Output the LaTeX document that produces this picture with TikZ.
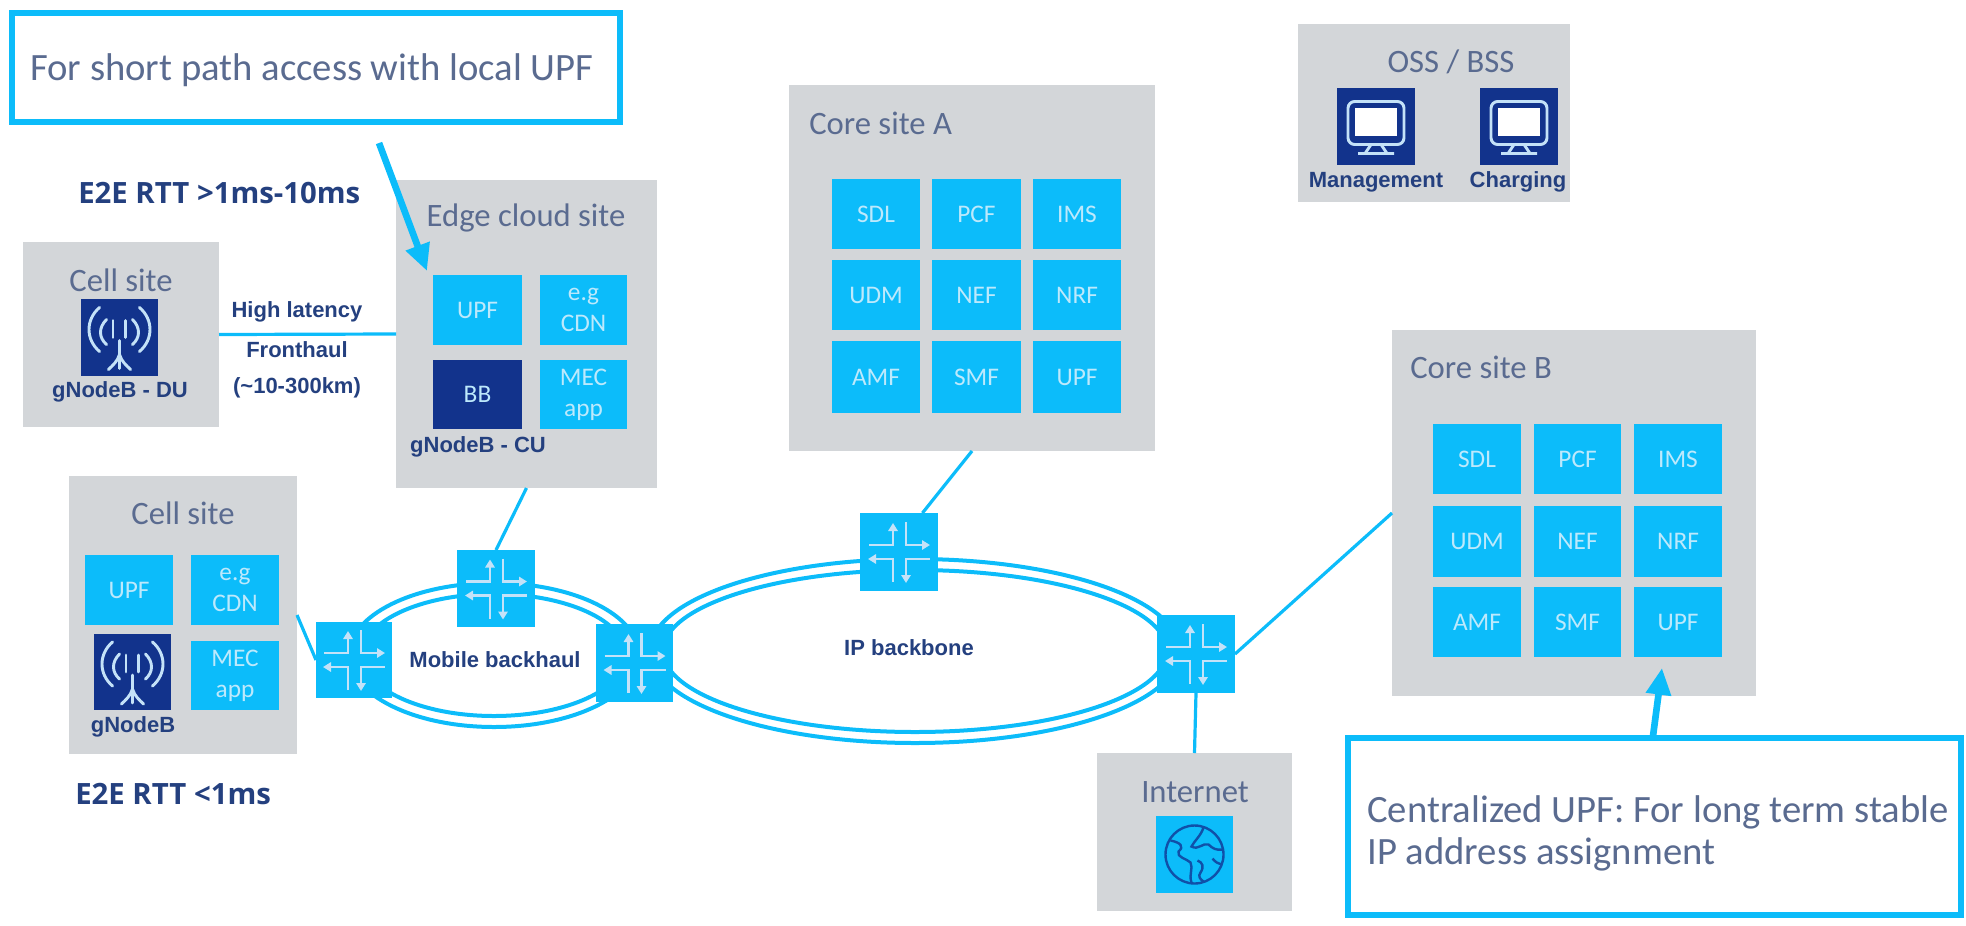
\documentclass[tikz,border=0pt]{standalone}
\usepackage{fontspec}
\setmainfont{Carlito}
\newfontfamily\arialfam{Liberation Sans}
\newfontfamily\opensfam{Open Sans}
\usetikzlibrary{arrows.meta,calc}
\definecolor{cyanbox}{HTML}{0CBCFA}
\definecolor{greybox}{HTML}{D3D6D9}
\definecolor{darkbox}{HTML}{12338C}
\definecolor{paletext}{HTML}{BDE9FC}
\definecolor{titletext}{HTML}{5A6B90}
\definecolor{boldtext}{HTML}{24407F}
\definecolor{globeline}{HTML}{1050A8}
\definecolor{iconline}{HTML}{C4E2F8}
\newcommand{\pxnode}[7]{%
  \pgfmathsetmacro\pxcx{(#3+#5)/2}%
  \pgfmathsetmacro\pxcy{(#4+#6)/2}%
  \pgfmathsetmacro\pxw{(#5-#3)*0.75}%
  \pgfmathsetmacro\pxh{(#6-#4)*0.75}%
  \node[#1,minimum width=\pxw pt,minimum height=\pxh pt] (#2) at (\pxcx,\pxcy) {#7};%
}
\tikzset{
  x=0.75pt,y=-0.75pt,
  anybox/.style={inner sep=0pt,outer sep=0pt,rectangle,align=center},
  site/.style={anybox,fill=greybox},
  fnbox/.style={anybox,fill=cyanbox,text=paletext,font=\fontsize{19}{23}\selectfont},
  bbbox/.style={anybox,fill=darkbox,text=paletext,font=\fontsize{19}{23}\selectfont},
  iconbox/.style={anybox,fill=darkbox},
  netbox/.style={anybox,fill=cyanbox},
  callout/.style={anybox,draw=cyanbox,line width=4.5pt,fill=white},
  sitetitle/.style={inner sep=0pt,text=titletext,font=\fontsize{24.5}{28}\selectfont},
  calltext/.style={inner sep=0pt,text=titletext,align=left,font=\fontsize{29}{31.5}\selectfont},
  iconlabel/.style={inner sep=0pt,text=boldtext,font=\arialfam\bfseries\fontsize{16.5}{19}\selectfont},
  rttlabel/.style={inner sep=0pt,text=boldtext,font=\opensfam\bfseries\fontsize{22}{26}\selectfont},
  link/.style={draw=cyanbox,line width=2.4pt},
  ring/.style={draw=cyanbox,line width=3pt},
  fatarrow/.style={draw=cyanbox,line width=5pt,-{Triangle[length=20pt,width=18pt]}},
  routerline/.style={draw=iconline,line width=2pt,-{Triangle[length=6pt,width=7pt]}},
  router/.pic={
    \draw[routerline] (-30,-7) -- (-6,-7) -- (-6,-29);
    \draw[routerline] (7,-30) -- (7,-7) -- (31,-7);
    \draw[routerline] (-6,30) -- (-6,7) -- (-31,7);
    \draw[routerline] (31,7) -- (7,7) -- (7,31);
  },
  antenna/.pic={
    \begin{scope}[draw=iconline,line width=2.2pt,line cap=round]
      \draw (-20,-30) .. controls (-34,-18) and (-34,2) .. (-20,14);
      \draw (20,-30) .. controls (34,-18) and (34,2) .. (20,14);
      \draw (-13,-18) .. controls (-21,-10) and (-21,0) .. (-13,7);
      \draw (13,-18) .. controls (21,-10) and (21,0) .. (13,7);
      \draw (-6.5,-17) -- (-6.5,0);
      \draw (6,-17) -- (6,0);
      \draw (0,3) -- (0,31);
      \draw (0,17) .. controls (-2,24) and (-7,28) .. (-11,32);
      \draw (0,17) .. controls (2,24) and (7,28) .. (11,32);
    \end{scope}
  },
  monitor/.pic={
    \draw[draw=iconline,line width=2.2pt,rounded corners=5pt] (-28,-25) rectangle (28,18);
    \fill[white] (-21,-19) rectangle (21,9);
    \draw[iconline,line width=2.2pt] (-5,18) -- (-11,27) (5,18) -- (11,27) (-18,27) -- (18,27);
  },
  globe/.pic={
    \begin{scope}[draw=globeline,line width=1.8pt]
      \draw (0,0) circle [radius=29];
      \draw (-24,-14) .. controls (-14,-12) and (-10,-8) .. (-16,-3) .. controls (-18,3) and (-8,4) .. (-4,8) .. controls (-1,14) and (-6,20) .. (-3,28);
      \draw (9,-27) .. controls (6,-18) and (0,-14) .. (-3,-8) .. controls (4,-4) and (8,-12) .. (14,-10) .. controls (18,-6) and (22,-4) .. (28,-5);
      \draw (3,6) .. controls (8,8) and (10,12) .. (6,18) .. controls (3,22) and (6,25) .. (9,27);
      \draw (18,4) .. controls (21,8) and (24,9) .. (27,10);
    \end{scope}
  }
}
\begin{document}
\begin{tikzpicture}
\useasboundingbox (0,0) rectangle (1966,925);
% callouts
\pxnode{callout}{callA}{12}{13}{620}{122}{}
\pxnode{callout}{callB}{1348}{738}{1961}{915}{}
\node[calltext,anchor=west] (callAtext) at (30,70) {For short path access with local UPF};
\node[calltext,anchor=west] (callBtext) at (1367,833) {Centralized UPF: For long term stable\\IP address assignment};
% rings
\draw[ring] (494,655) ellipse [x radius=145,y radius=72];
\draw[ring] (494,655) ellipse [x radius=132,y radius=61];
\draw[ring] (915,651) ellipse [x radius=265,y radius=92];
\draw[ring] (915,651) ellipse [x radius=252,y radius=81];
% cell site DU
\pxnode{site}{cellA}{23}{242}{219}{427}{}
\node[sitetitle] (cellAtitle) at (121,280) {Cell site};
\pxnode{iconbox}{iconA}{81}{299}{158}{376}{}
\pic at (iconA.center) {antenna};
\node[iconlabel] (cellAlabel) at (120,392) {gNodeB - DU};
% edge cloud
\pxnode{site}{edge}{396}{180}{657}{488}{}
\node[sitetitle] (edgetitle) at (526,218) {Edge cloud site};
\pxnode{fnbox}{edgeUPF}{433}{275}{522}{345}{UPF}
\pxnode{fnbox}{edgeCDN}{540}{275}{627}{345}{e.g\\CDN}
\pxnode{bbbox}{edgeBB}{433}{360}{522}{429}{BB}
\pxnode{fnbox}{edgeMEC}{540}{360}{627}{429}{MEC\\app}
\node[iconlabel] (edgelabel) at (478,447) {gNodeB - CU};
% cell site with UPF
\pxnode{site}{cellB}{69}{476}{297}{754}{}
\node[sitetitle] (cellBtitle) at (183,513) {Cell site};
\pxnode{fnbox}{cellUPF}{85}{555}{173}{625}{UPF}
\pxnode{fnbox}{cellCDN}{191}{555}{279}{625}{e.g\\CDN}
\pxnode{iconbox}{iconB}{94}{634}{171}{710}{}
\pic at (iconB.center) {antenna};
\pxnode{fnbox}{cellMEC}{191}{641}{279}{710}{MEC\\app}
\node[iconlabel] (cellBlabel) at (133,727) {gNodeB};
% core A
\pxnode{site}{coreA}{789}{85}{1155}{451}{}
\node[sitetitle,anchor=west] (coreAtitle) at (809,123) {Core site A};
\pxnode{fnbox}{aSDL}{832}{179}{920}{249}{SDL}
\pxnode{fnbox}{aPCF}{932}{179}{1021}{249}{PCF}
\pxnode{fnbox}{aIMS}{1033}{179}{1121}{249}{IMS}
\pxnode{fnbox}{aUDM}{832}{260}{920}{330}{UDM}
\pxnode{fnbox}{aNEF}{932}{260}{1021}{330}{NEF}
\pxnode{fnbox}{aNRF}{1033}{260}{1121}{330}{NRF}
\pxnode{fnbox}{aAMF}{832}{341}{920}{413}{AMF}
\pxnode{fnbox}{aSMF}{932}{341}{1021}{413}{SMF}
\pxnode{fnbox}{aUPF}{1033}{341}{1121}{413}{UPF}
% core B
\pxnode{site}{coreB}{1392}{330}{1756}{696}{}
\node[sitetitle,anchor=west] (coreBtitle) at (1410,367) {Core site B};
\pxnode{fnbox}{bSDL}{1433}{424}{1521}{494}{SDL}
\pxnode{fnbox}{bPCF}{1534}{424}{1621}{494}{PCF}
\pxnode{fnbox}{bIMS}{1634}{424}{1722}{494}{IMS}
\pxnode{fnbox}{bUDM}{1433}{506}{1521}{577}{UDM}
\pxnode{fnbox}{bNEF}{1534}{506}{1621}{577}{NEF}
\pxnode{fnbox}{bNRF}{1634}{506}{1722}{577}{NRF}
\pxnode{fnbox}{bAMF}{1433}{587}{1521}{657}{AMF}
\pxnode{fnbox}{bSMF}{1534}{587}{1621}{657}{SMF}
\pxnode{fnbox}{bUPF}{1634}{587}{1722}{657}{UPF}
% OSS
\pxnode{site}{oss}{1298}{24}{1570}{202}{}
\node[sitetitle] (osstitle) at (1451,62) {OSS / BSS};
\pxnode{iconbox}{iconM}{1337}{88}{1415}{165}{}
\pic at (iconM.center) {monitor};
\pxnode{iconbox}{iconC}{1480}{88}{1558}{165}{}
\pic at (iconC.center) {monitor};
\node[iconlabel] (mgmt) at (1376,182) {Management};
\node[iconlabel] (chg) at (1518,182) {Charging};
% internet
\pxnode{site}{inet}{1097}{753}{1292}{911}{}
\node[sitetitle] (inettitle) at (1195,792) {Internet};
\pxnode{netbox}{iconI}{1156}{816}{1233}{893}{}
\pic at (iconI.center) {globe};
% routers
\pxnode{netbox}{rL}{316}{622}{392}{698}{}
\pxnode{netbox}{rT}{457}{550}{535}{627}{}
\pxnode{netbox}{rM}{596}{624}{673}{702}{}
\pxnode{netbox}{rC}{860}{513}{938}{591}{}
\pxnode{netbox}{rR}{1157}{615}{1235}{693}{}
\foreach \r in {rL,rT,rM,rC,rR} \pic at (\r.center) {router};
% labels
\node[rttlabel,anchor=west] (rttA) at (78,193) {E2E RTT >1ms-10ms};
\node[rttlabel,anchor=west] (rttB) at (75,794) {E2E RTT <1ms};
\node[iconlabel] (hl) at (297,312) {High latency};
\node[iconlabel] (fh) at (297,350) {Fronthaul};
\node[iconlabel] (km) at (297,388) {(\textasciitilde 10-300km)};
\node[iconlabel] (mb) at (495,660) {Mobile backhaul};
\node[iconlabel] (ipb) at (909,648) {IP backbone};
% connectors
\draw[link] (cellA.east) -- (edge.west);
\draw[link] (edge.south) -- (rT.north);
\draw[link] (cellB.east) -- (rL.west);
\draw[link] (coreA.south) -- (rC.59);
\draw[link] (rR.east) -- (coreB.west);
\draw[link] (rR.south) -- (inet.north);
% arrows
\coordinate (arrowAstart) at (372,125);
\coordinate (arrowAend) at (427,271);
\coordinate (arrowBstart) at (1653,736);
\coordinate (arrowBend) at (1662,668);
\draw[fatarrow] (arrowAstart) ++(7,18) -- (arrowAend);
\draw[fatarrow] (arrowBstart) -- (arrowBend);
\end{tikzpicture}
\end{document}
